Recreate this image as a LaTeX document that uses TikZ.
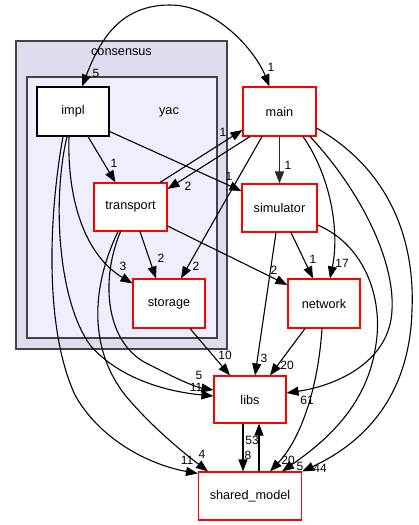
\documentclass[tikz,border=0pt]{standalone}
\usepackage{fontspec}
\setmainfont{Liberation Sans}
\usepackage{xcolor}
\usepackage{tikz}
\usetikzlibrary{arrows.meta,positioning}

\definecolor{clusterouter}{HTML}{DDDDEE}
\definecolor{clusterinner}{HTML}{EEEEFF}
\definecolor{clusterline}{HTML}{444444}

\begin{document}
\begin{tikzpicture}[x=1pt, y=-1pt, font=\fontsize{12.7}{15}\selectfont, >={Triangle[length=12pt,width=9pt]}, dir/.style={draw=red, line width=1.1pt, fill=white, minimum width=72pt, minimum height=49pt, inner sep=0pt}, arr/.style={->, line width=1.1pt}, lbl/.style={font=\fontsize{12}{14}\selectfont, inner sep=0pt}, cluster/.style={draw=clusterline, line width=1.2pt}]
\useasboundingbox (0,0) rectangle (418,525);
\path[cluster, fill=clusterouter] (16,41) rectangle (227,349);
\path[cluster, fill=clusterinner] (27,77) rectangle (217,338);
\node (consensus) at (121.5,52.5) {consensus};
\node[anchor=base] (yac) at (169,114) {yac};
\node[dir, draw=black] (impl) at (73,111.5) {impl};
\node[dir, minimum width=73pt] (main) at (279.5,111.5) {main};
\node[dir, minimum width=75pt, minimum height=48pt, below=46.9pt of main] (simulator) {simulator};
\node[dir, minimum width=73pt, minimum height=48pt] (transport) at (130.5,207) {transport};
\node[dir] (storage) at (169,303.5) {storage};
\node[dir] (network) at (324,303.5) {network};
\node[dir, minimum height=47pt] (libs) at (250,399.5) {libs};
\node[dir, minimum width=103pt, minimum height=48pt, below=47.9pt of libs] (shared) {shared\_model};
\draw[arr, <->] ([xshift=9pt]impl.north) .. controls (100,40) and (120,5) .. (170,5) .. controls (215,5) and (255,50) .. ([xshift=-10pt]main.north) node[lbl] at (96,73) {5} node[lbl] at (271,67) {1};
\draw[arr] ([xshift=15pt]impl.south) -- ([xshift=-15pt]transport.north) node[lbl] at (114,163) {1};
\draw[arr] ([yshift=-20pt]impl.east) -- ([yshift=17pt]simulator.west) node[lbl] at (229,176) {1};
\draw[arr] ([xshift=-4pt]impl.south) .. controls (67,200) and (85,255) .. ([yshift=20pt]storage.west) node[lbl] at (123,266) {3};
\draw[arr] ([xshift=-6pt]impl.south) .. controls (52,200) and (58,300) .. (90,345) .. controls (120,380) and (170,392) .. ([yshift=3.5pt]libs.west) node[lbl] at (196,387) {11};
\draw[arr] ([xshift=-10pt]impl.south) .. controls (48,220) and (45,330) .. (75,395) .. controls (100,440) and (150,465) .. ([yshift=-2pt]shared.north west) node[lbl] at (187,460) {11};
\draw[arr] ([xshift=29.5pt]transport.north) -- ([yshift=-18.5pt]main.west) node[lbl] at (223,132) {1};
\draw[arr] ([xshift=-29.5pt]main.south) -- ([yshift=18pt]transport.east) node[lbl] at (188,186) {2};
\draw[arr] ([xshift=9.5pt]transport.south) -- ([xshift=-13pt]storage.north) node[lbl] at (161,258) {2};
\draw[arr] ([yshift=-19pt]transport.east) -- ([yshift=18.5pt]network.west) node[lbl] at (274,270) {2};
\draw[arr] ([xshift=-10pt]transport.south) .. controls (100,280) and (105,345) .. (150,365) .. controls (175,378) and (195,387) .. ([yshift=9.5pt]libs.west) node[lbl] at (199,375) {5};
\draw[arr] ([xshift=-12.5pt]transport.south) .. controls (90,290) and (90,350) .. (125,395) .. controls (150,425) and (180,450) .. ([xshift=-42pt]shared.north) node[lbl] at (202,454) {4};
\draw[arr] ([xshift=-17.5pt]main.south) -- ([xshift=12pt]storage.north) node[lbl] at (196,266) {2};
\draw[arr, line width=1.8pt, black!85] (main) -- (simulator) node[lbl, black] at (288,165) {1};
\draw[arr] ([xshift=23.5pt]main.south) .. controls (330,175) and (340,230) .. ([xshift=6pt]network.north) node[lbl] at (342,263) {17};
\draw[arr] ([xshift=30.5pt]main.south) .. controls (360,190) and (395,260) .. (392,310) .. controls (390,360) and (340,385) .. ([yshift=6.5pt]libs.east) node[lbl] at (307,400) {61};
\draw[arr] ([yshift=-16.5pt]main.east) .. controls (390,170) and (415,240) .. (412,310) .. controls (410,390) and (370,440) .. (shared.north east) node[lbl] at (320,468) {44};
\draw[arr] ([xshift=-3.5pt]simulator.south) -- ([xshift=5pt]libs.north) node[lbl] at (264,358) {3};
\draw[arr] ([xshift=11.5pt]simulator.south) -- ([xshift=-11pt]network.north) node[lbl] at (313,259) {1};
\draw[arr] ([yshift=-17pt]simulator.east) .. controls (365,245) and (385,300) .. (375,350) .. controls (365,410) and (320,445) .. ([xshift=32pt]shared.north) node[lbl] at (300,466) {5};
\draw[arr] ([xshift=-19pt]network.south) -- ([xshift=20pt]libs.north) node[lbl] at (287,365) {20};
\draw[arr] ([xshift=-2pt]network.south) .. controls (318,390) and (300,440) .. ([xshift=20pt]shared.north) node[lbl] at (288,460) {20};
\draw[arr] ([xshift=21pt]storage.south) -- ([xshift=-20pt]libs.north) node[lbl] at (225,355) {10};
\draw[arr] ([xshift=-7pt]libs.south) -- ([xshift=-7pt]shared.north) node[lbl] at (248,455) {8};
\draw[arr] ([xshift=9pt]shared.north) -- ([xshift=9pt]libs.south) node[lbl] at (252,440) {53};
\end{tikzpicture}
\end{document}
